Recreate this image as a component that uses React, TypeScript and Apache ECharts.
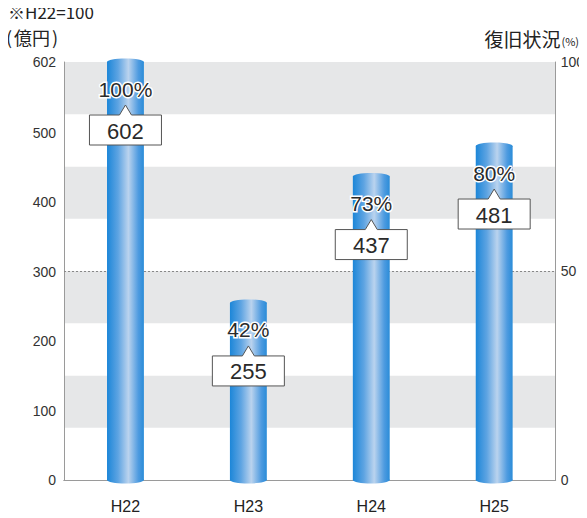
import React, { useEffect, useRef } from "react";
import * as echarts from "echarts";

// Fiscal years (Heisei)
const categories = ["H22", "H23", "H24", "H25"];
// Amount in 億円
const amounts = [602, 255, 437, 481];
// Recovery rate (%), H22 = 100
const recoveryRates = [100, 42, 73, 80];
// Left axis labels and right axis labels
const leftTicks = [0, 100, 200, 300, 400, 500, 602];
const rightTicks = [0, 50, 100];

const NUM_FONT = "Liberation Sans, Arial, Helvetica, sans-serif";
const JP_FONT = "'Noto Sans CJK JP', 'Noto Sans', sans-serif";

const cylinderFill = {
  type: "linear",
  x: 0,
  y: 0,
  x2: 1,
  y2: 0,
  colorStops: [
    { offset: 0, color: "#1c86d8" },
    { offset: 0.3, color: "#5ea4e2" },
    { offset: 0.58, color: "#bad3ee" },
    { offset: 0.85, color: "#4e9be0" },
    { offset: 1, color: "#2a8cd8" },
  ],
};

export default function App() {
  const ref = useRef<HTMLDivElement>(null);

  useEffect(() => {
    if (!ref.current) return;
    const chart = echarts.init(ref.current, undefined, { renderer: "svg" });

    const renderItem = (params: any, api: any) => {
      const idx = api.value(0);
      const v = api.value(1);
      const rate = api.value(2);
      const top = api.coord([idx, v]);
      const base = api.coord([idx, 0]);
      const bw = api.size([1, 0])[0] * 0.3;
      const cx = top[0];
      const ry = 3.5;
      const boxW = 72;
      const boxH = 30;
      const boxT = top[1] + 53;
      const L = cx - boxW / 2;
      const R = cx + boxW / 2;
      return {
        type: "group",
        children: [
          {
            type: "rect",
            shape: { x: cx - bw / 2, y: top[1], width: bw, height: base[1] - top[1] },
            style: { fill: cylinderFill },
          },
          {
            type: "ellipse",
            shape: { cx, cy: base[1], rx: bw / 2, ry },
            style: { fill: cylinderFill },
          },
          {
            type: "ellipse",
            shape: { cx, cy: top[1], rx: bw / 2, ry },
            style: { fill: cylinderFill },
          },
          {
            type: "text",
            x: cx,
            y: top[1] + 27,
            style: {
              text: rate + "%",
              fill: "#2a2a2a",
              stroke: "#ffffff",
              lineWidth: 3,
              strokeFirst: true,
              font: `21px ${NUM_FONT}`,
              align: "center",
              verticalAlign: "middle",
            },
          },
          {
            type: "polygon",
            shape: {
              points: [
                [L, boxT],
                [cx - 6, boxT],
                [cx, boxT - 10],
                [cx + 6, boxT],
                [R, boxT],
                [R, boxT + boxH],
                [L, boxT + boxH],
              ],
            },
            style: { fill: "#ffffff", stroke: "#555555", lineWidth: 1 },
          },
          {
            type: "text",
            x: cx,
            y: boxT + boxH / 2 + 1,
            style: {
              text: String(v),
              fill: "#2a2a2a",
              font: `22px ${NUM_FONT}`,
              align: "center",
              verticalAlign: "middle",
            },
          },
        ],
      };
    };

    chart.setOption({
      animation: false,
      grid: { left: 64, right: 31, top: 62, bottom: 38 },
      graphic: [
        {
          type: "text",
          left: 8,
          top: 3,
          style: { text: "※H22=100", font: `17px ${JP_FONT}`, fill: "#222" },
        },
        {
          type: "text",
          left: 6,
          top: 28,
          style: {
            text: "{p|(}{k|億円}{p|)}",
            rich: {
              p: { font: `18px ${JP_FONT}`, fill: "#222", padding: [0, 2, 0, 2] },
              k: { font: `18px ${JP_FONT}`, fill: "#222" },
            },
          },
        },
        {
          type: "text",
          right: 8,
          top: 29,
          style: {
            text: "{a|復旧状況}{b|(%)}",
            rich: {
              a: { font: `19px ${JP_FONT}`, fill: "#222", verticalAlign: "bottom" },
              b: { font: `11px ${JP_FONT}`, fill: "#222", verticalAlign: "bottom", padding: [0, 0, 2, 1] },
            },
          },
        },
      ],
      xAxis: [
        {
          type: "category",
          data: categories,
          axisLine: { show: true, lineStyle: { color: "#9a9a9a", width: 1 } },
          axisTick: { show: false },
          axisLabel: { margin: 18, fontSize: 16, color: "#222", fontFamily: NUM_FONT },
        },
        {
          type: "category",
          position: "top",
          data: categories,
          axisLine: { show: true, lineStyle: { color: "#9a9a9a", width: 1 } },
          axisTick: { show: false },
          axisLabel: { show: false },
        },
      ],
      yAxis: [
        {
          type: "value",
          min: 0,
          max: 602,
          interval: 100,
          axisLine: { show: true, lineStyle: { color: "#9a9a9a", width: 1 } },
          axisTick: { show: false },
          splitLine: { show: false },
          axisLabel: {
            customValues: leftTicks,
            margin: 8,
            fontSize: 14,
            color: "#333",
            fontFamily: NUM_FONT,
          },
        },
        {
          type: "value",
          min: 0,
          max: 100,
          interval: 12.5,
          position: "right",
          axisLine: { show: true, lineStyle: { color: "#9a9a9a", width: 1 } },
          axisTick: { show: false },
          splitLine: { show: false },
          splitArea: { show: true, areaStyle: { color: ["#ffffff", "#e6e7e8"] } },
          axisLabel: {
            customValues: rightTicks,
            margin: 5,
            fontSize: 14,
            color: "#333",
            fontFamily: NUM_FONT,
          },
        },
      ],
      series: [
        {
          type: "line",
          yAxisIndex: 1,
          data: [],
          silent: true,
          markLine: {
            silent: true,
            symbol: "none",
            label: { show: false },
            lineStyle: { color: "#888", type: [2, 2], width: 1 },
            data: [{ yAxis: 50 }],
          },
        },
        {
          type: "custom",
          z: 5,
          renderItem,
          encode: { x: 0, y: 1 },
          data: categories.map((_, i) => [i, amounts[i], recoveryRates[i]]),
        },
      ],
    });

    return () => chart.dispose();
  }, []);

  return <div ref={ref} style={{ width: 587, height: 518, marginLeft: -8, marginTop: -8 }} />;
}
